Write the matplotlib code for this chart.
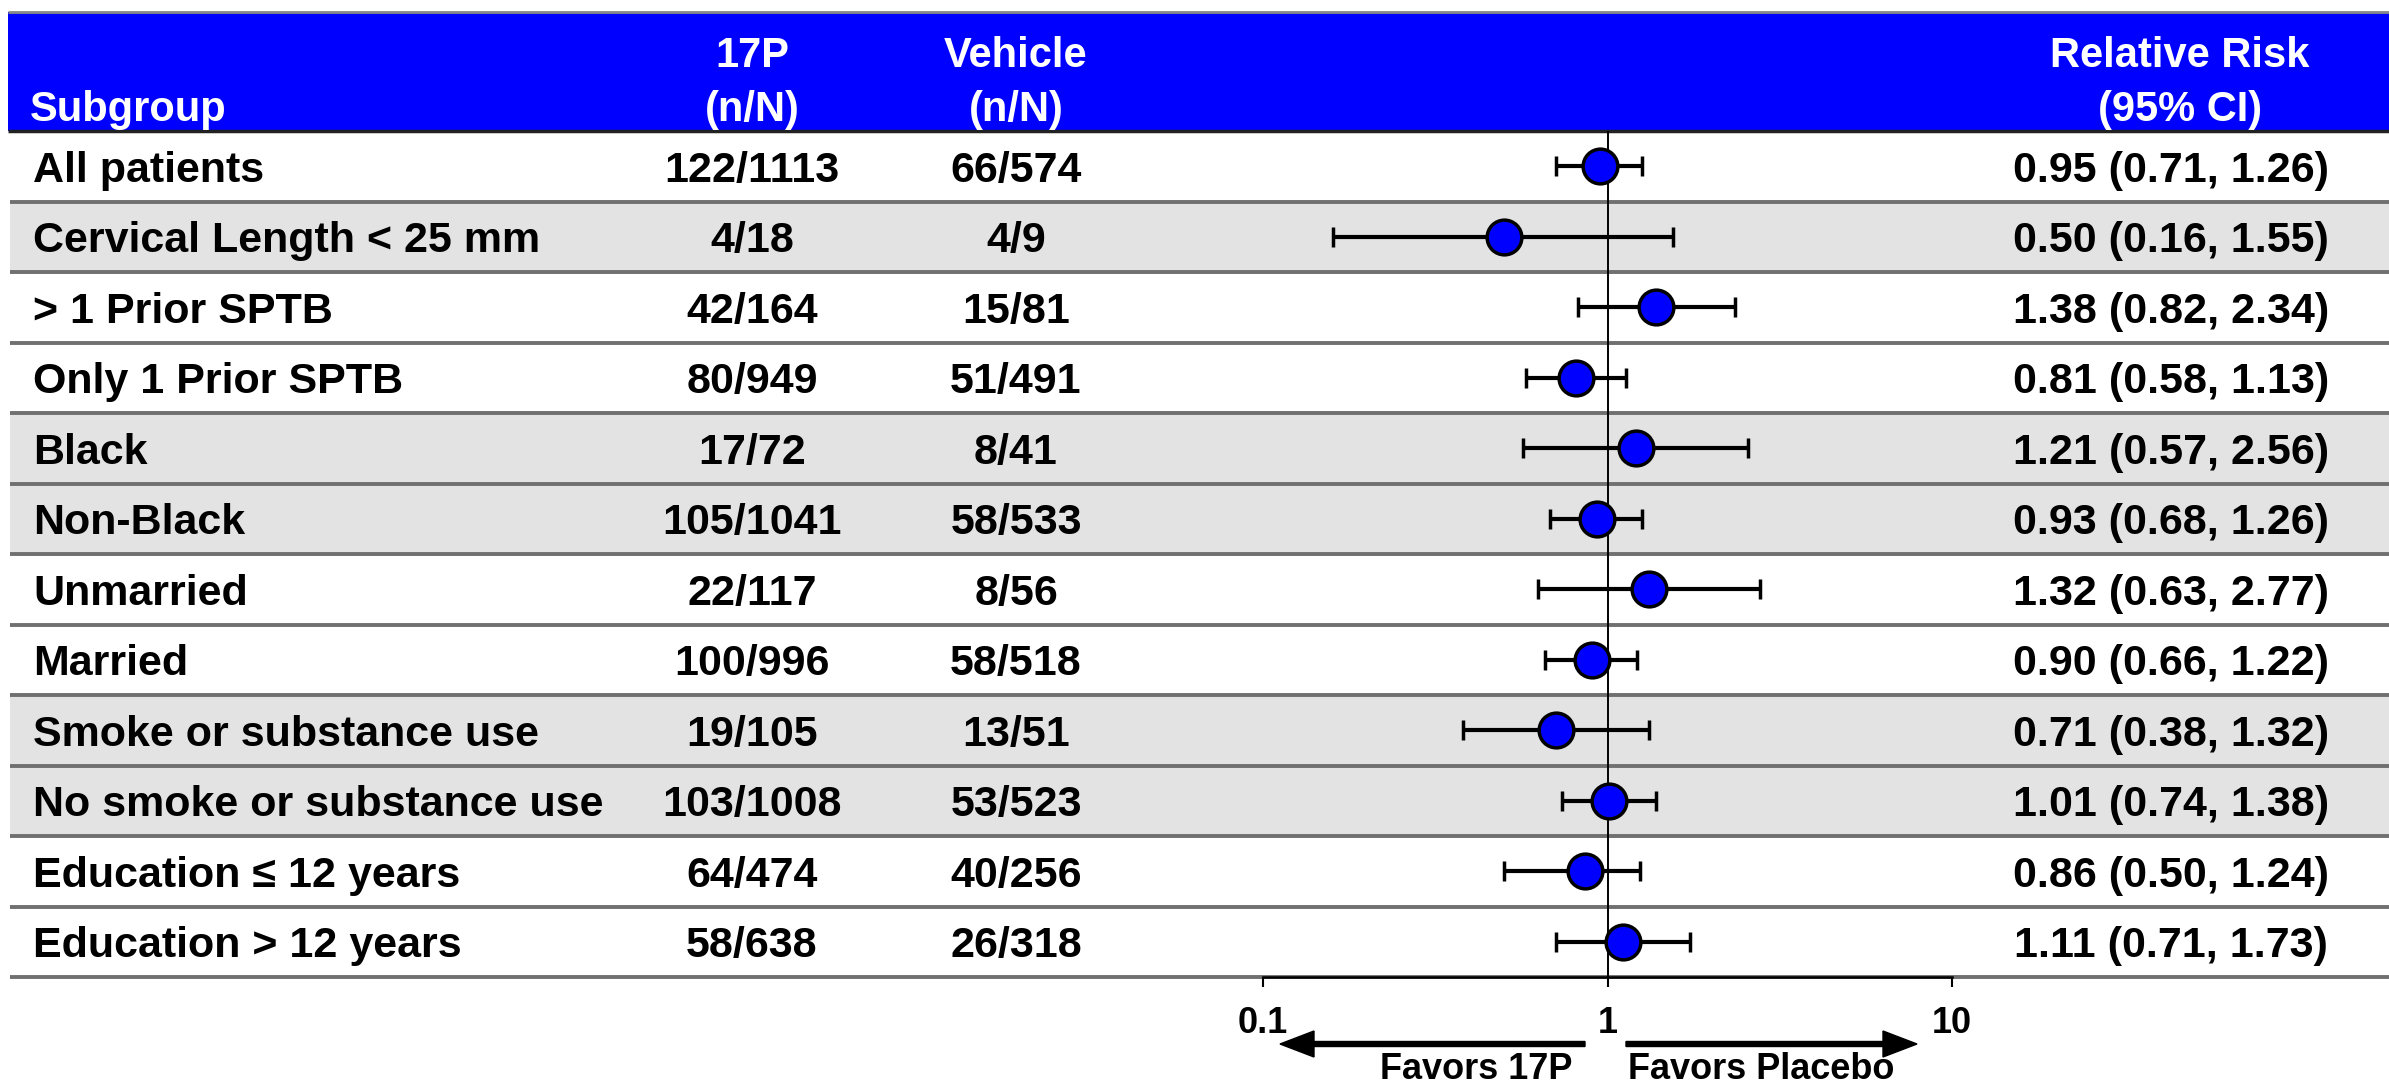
import matplotlib
matplotlib.use("Agg")
import matplotlib.pyplot as plt
from matplotlib.patches import Rectangle
import numpy as np

plt.rcParams['font.family'] = ['Liberation Sans', 'DejaVu Sans']
plt.rcParams['font.weight'] = 'bold'

# data
subgroups = ['All patients', 'Cervical Length < 25 mm', '> 1 Prior SPTB',
             'Only 1 Prior SPTB', 'Black', 'Non-Black', 'Unmarried', 'Married',
             'Smoke or substance use', 'No smoke or substance use',
             'Education \u2264 12 years', 'Education > 12 years']
p17_n = [122, 4, 42, 80, 17, 105, 22, 100, 19, 103, 64, 58]
p17_N = [1113, 18, 164, 949, 72, 1041, 117, 996, 105, 1008, 474, 638]
veh_n = [66, 4, 15, 51, 8, 58, 8, 58, 13, 53, 40, 26]
veh_N = [574, 9, 81, 491, 41, 533, 56, 518, 51, 523, 256, 318]
rr = np.array([0.95, 0.50, 1.38, 0.81, 1.21, 0.93, 1.32, 0.90, 0.71, 1.01, 0.86, 1.11])
rr_lo = np.array([0.71, 0.16, 0.82, 0.58, 0.57, 0.68, 0.63, 0.66, 0.38, 0.74, 0.50, 0.71])
rr_hi = np.array([1.26, 1.55, 2.34, 1.13, 2.56, 1.26, 2.77, 1.22, 1.32, 1.38, 1.24, 1.73])
shaded = [False, True, False, False, True, True, False, False, True, True, False, False]
xticks = [0.1, 1, 10]
xticklabels = ['0.1', '1', '10']

# layout (pixels)
W, H = 2389, 1085
top, row_h = 131, 70.5
n = len(subgroups)
bottom = top + n * row_h
x_lab, x_17p, x_veh, x_rr = 33, 752, 1016, 2171
fs = 31
cap = 0.716 * fs * 100 / 72

fig = plt.figure(figsize=(W / 100, H / 100), dpi=100)
ax = fig.add_axes([0, 0, 1, 1])
ax.set_xlim(0, W)
ax.set_ylim(H, 0)
ax.axis('off')

# header band
ax.add_patch(Rectangle((8, 12), W - 8, top - 12, facecolor='#0000ff', edgecolor='none'))
ax.hlines(12, 8, W, color='#888888', lw=2)
ax.hlines(top, 8, W, color='#222222', lw=2.5)
hc = dict(color='white', fontsize=30, va='baseline')
ax.text(30, 121, 'Subgroup', ha='left', **hc)
ax.text(x_17p, 67, '17P', ha='center', **hc)
ax.text(x_17p, 121, '(n/N)', ha='center', **hc)
ax.text(x_veh, 67, 'Vehicle', ha='center', **hc)
ax.text(x_veh, 121, '(n/N)', ha='center', **hc)
ax.text(2180, 67, 'Relative Risk', ha='center', **hc)
ax.text(2180, 121, '(95% CI)', ha='center', **hc)

# rows
for i in range(n):
    y0 = top + i * row_h
    if shaded[i]:
        ax.add_patch(Rectangle((10, y0), W - 10, row_h, facecolor='#e3e3e3', edgecolor='none'))
    yb = y0 + row_h / 2 + cap / 2
    ax.text(x_lab, yb, subgroups[i], ha='left', va='baseline', fontsize=fs)
    ax.text(x_17p, yb, f'{p17_n[i]}/{p17_N[i]}', ha='center', va='baseline', fontsize=fs)
    ax.text(x_veh, yb, f'{veh_n[i]}/{veh_N[i]}', ha='center', va='baseline', fontsize=fs)
    ax.text(x_rr, yb, f'{rr[i]:.2f} ({rr_lo[i]:.2f}, {rr_hi[i]:.2f})',
            ha='center', va='baseline', fontsize=fs)
ax.hlines([top + k * row_h for k in range(1, n + 1)], 10, W, color='#707070', lw=2.8)

# arrows and favors text
ax.arrow(1585, 1044, 1280 - 1585, 0, width=5, head_width=26, head_length=34,
         length_includes_head=True, fc='black', ec='black')
ax.arrow(1626, 1044, 1917 - 1626, 0, width=5, head_width=26, head_length=34,
         length_includes_head=True, fc='black', ec='black')
ax.text(1572, 1079, 'Favors 17P', ha='right', va='baseline', fontsize=26)
ax.text(1628, 1079, 'Favors Placebo', ha='left', va='baseline', fontsize=26)

# forest plot
x0, x1 = 1263, 1952
ax2 = fig.add_axes([x0 / W, 1 - bottom / H, (x1 - x0) / W, (bottom - top) / H])
ax2.patch.set_alpha(0)
ax2.set_xscale('log')
ax2.set_xlim(0.1, 10)
ax2.set_ylim(n - 0.5, -0.5)
ypos = np.arange(n)
ax2.axvline(1, color='black', lw=1.4, zorder=1)
ax2.errorbar(rr, ypos, xerr=[rr - rr_lo, rr_hi - rr], fmt='o', ms=25,
             mfc='#0000ff', mec='black', mew=2.5, ecolor='black',
             elinewidth=3, capsize=7, capthick=3, zorder=3)
for s in ['top', 'left', 'right']:
    ax2.spines[s].set_visible(False)
ax2.spines['bottom'].set_color('black')
ax2.spines['bottom'].set_linewidth(1.8)
ax2.set_yticks([])
ax2.minorticks_off()
ax2.set_xticks(xticks)
ax2.set_xticklabels(xticklabels)
ax2.tick_params(axis='x', direction='out', length=7, width=1.5, pad=14, labelsize=26)

fig.savefig('out.png', dpi=100)
